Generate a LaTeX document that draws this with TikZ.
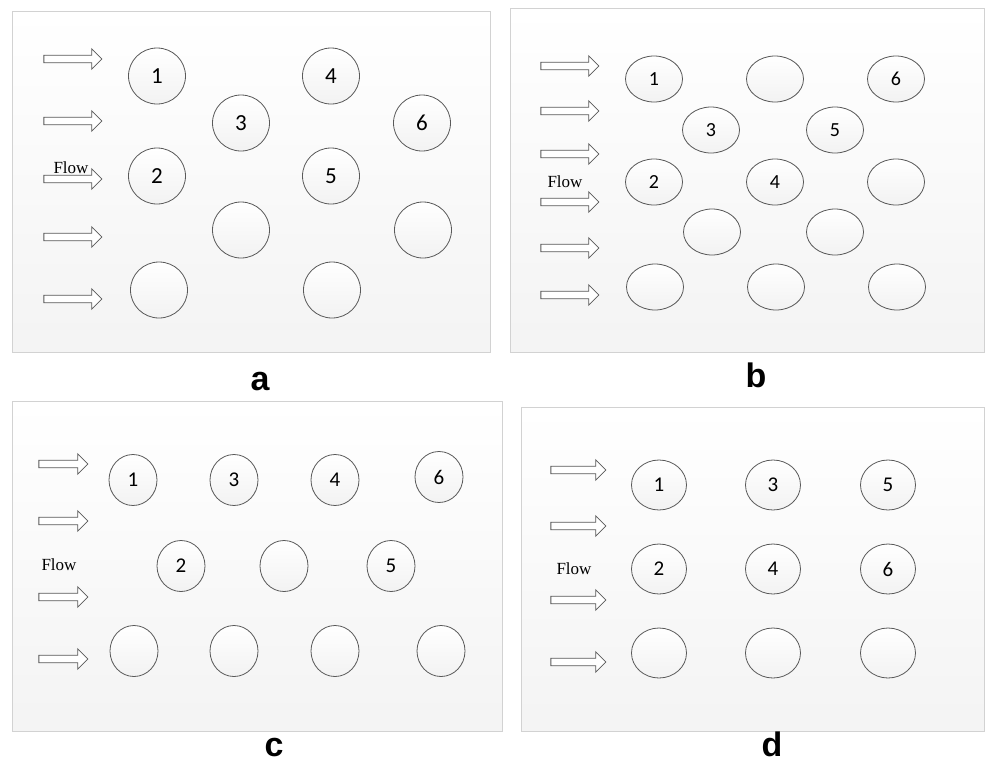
\documentclass[tikz,border=0pt]{standalone}
\usepackage{fontspec}
\setmainfont{Liberation Serif}
\newfontfamily\numfont{Carlito}
\newfontfamily\labfont{Liberation Sans}
\usetikzlibrary{shapes.geometric,shapes.arrows}

\begin{document}
\begin{tikzpicture}[x=1pt, y=-1pt,
  panel/.style={
    draw=Cedge, line width=1pt, top color=white, bottom color=Cbg
  },
  tube/.style={
    ellipse, draw=Cline, line width=0.8pt,
    top color=white, bottom color=Ctube, inner sep=0pt
  },
  tubeA/.style={tube, minimum width=57pt, minimum height=56pt, font=\numfont\fontsize{23}{23}\selectfont},
  tubeB/.style={tube, minimum width=57pt, minimum height=46pt, font=\numfont\fontsize{20}{20}\selectfont},
  tubeC/.style={tube, minimum width=48pt, minimum height=51pt, font=\numfont\fontsize{21}{21}\selectfont},
  tubeD/.style={tube, minimum width=55pt, minimum height=50pt, font=\numfont\fontsize{21}{21}\selectfont},
  flowarrow/.style={
    single arrow, draw=Cline, line width=0.8pt, fill=white,
    inner sep=3.3pt, single arrow head extend=6.5pt, minimum height=#1
  },
  flowtext/.style={font=\fontsize{17}{17}\selectfont, inner sep=0pt},
  panlab/.style={font=\labfont\bfseries\fontsize{34}{34}\selectfont, inner sep=0pt, anchor=base}
]
\colorlet{Cedge}{gray!35}
\colorlet{Cbg}{gray!9}
\colorlet{Cline}{black!65}
\colorlet{Ctube}{gray!10}
\useasboundingbox (0,0) rectangle (985,763);
%% PANEL FRAMES
\path[panel] (12,11)  rectangle (490,352);
\path[panel] (510,8)  rectangle (984.5,352);
\path[panel] (12,401) rectangle (502,731);
\path[panel] (521,407) rectangle (984.5,731);
%% PANEL A
\node[flowarrow=58pt] (aF1) at (71,59)  {};
\node[flowarrow=58pt] (aF2) at (71,121) {};
\node[flowarrow=58pt] (aF3) at (71,179) {};
\node[flowarrow=58pt] (aF4) at (71,237) {};
\node[flowarrow=58pt] (aF5) at (71,299) {};
\node[flowtext, above=1pt] (aFlow) at (aF3.north) {Flow};
\node[tubeA] (A1)  at (157,76)  {1};
\node[tubeA] (A3)  at (241,123) {3};
\node[tubeA] (A4)  at (331,76)  {4};
\node[tubeA] (A6)  at (422,123) {6};
\node[tubeA] (A2)  at (157,176) {2};
\node[tubeA] (A5)  at (331,176) {5};
\node[tubeA] (A7)  at (241,230) {};
\node[tubeA] (A8)  at (423,230) {};
\node[tubeA] (A9)  at (159,290) {};
\node[tubeA] (A10) at (332,290) {};
\node[panlab] (labA) at (260,390) {a};
%% PANEL B
\node[flowarrow=58pt] (bF1) at (568,66)  {};
\node[flowarrow=58pt] (bF2) at (568,111) {};
\node[flowarrow=58pt] (bF3) at (568,154) {};
\node[flowarrow=58pt] (bF4) at (568,202) {};
\node[flowarrow=58pt] (bF5) at (568,248) {};
\node[flowarrow=58pt] (bF6) at (568,295) {};
\node[flowtext] (bFlow) at (565,182) {Flow};
\node[tubeB] (B1)  at (654,79)  {1};
\node[tubeB] (B7)  at (775,79)  {};
\node[tubeB] (B6)  at (896,79)  {6};
\node[tubeB] (B3)  at (711,130) {3};
\node[tubeB] (B5)  at (835,130) {5};
\node[tubeB] (B2)  at (654,182) {2};
\node[tubeB] (B4)  at (775,182) {4};
\node[tubeB] (B8)  at (896,182) {};
\node[tubeB] (B9)  at (712,232) {};
\node[tubeB] (B10) at (835,232) {};
\node[tubeB] (B11) at (655,287) {};
\node[tubeB] (B12) at (776,287) {};
\node[tubeB] (B13) at (897,287) {};
\node[panlab] (labB) at (756,387) {b};
%% PANEL C
\node[flowarrow=49pt] (cF1) at (61.5,464) {};
\node[flowarrow=49pt] (cF2) at (61.5,521) {};
\node[flowarrow=49pt] (cF3) at (61.5,597) {};
\node[flowarrow=49pt] (cF4) at (61.5,659) {};
\node[flowtext] (cFlow) at (59,565) {Flow};
\node[tubeC] (C1)  at (133,480) {1};
\node[tubeC] (C3)  at (234,480) {3};
\node[tubeC] (C4)  at (335,480) {4};
\node[tubeC] (C6)  at (439,477) {6};
\node[tubeC] (C2)  at (181,566) {2};
\node[tubeC] (C7)  at (284,566) {};
\node[tubeC] (C5)  at (391,566) {5};
\node[tubeC] (C8)  at (134,651) {};
\node[tubeC] (C9)  at (234,651) {};
\node[tubeC] (C10) at (335,651) {};
\node[tubeC] (C11) at (441,651) {};
\node[panlab] (labC) at (274,756) {c};
%% PANEL D
\node[flowarrow=55pt] (dF1) at (576.5,470) {};
\node[flowarrow=55pt] (dF2) at (576.5,526) {};
\node[flowarrow=55pt] (dF3) at (576.5,600) {};
\node[flowarrow=55pt] (dF4) at (576.5,662) {};
\node[flowtext] (dFlow) at (574,569) {Flow};
\node[tubeD] (D1) at (659,485) {1};
\node[tubeD] (D3) at (773,485) {3};
\node[tubeD] (D5) at (888,485) {5};
\node[tubeD] (D2) at (659,569) {2};
\node[tubeD] (D4) at (773,569) {4};
\node[tubeD] (D6) at (888,569) {6};
\node[tubeD] (D7) at (659,653) {};
\node[tubeD] (D8) at (773,653) {};
\node[tubeD] (D9) at (888,653) {};
\node[panlab] (labD) at (772,756) {d};
\end{tikzpicture}
\end{document}
